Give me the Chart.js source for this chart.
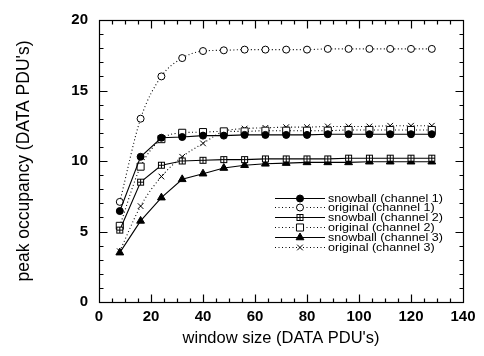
<!DOCTYPE html>
<html>
<head>
<meta charset="utf-8">
<script src="https://cdn.jsdelivr.net/npm/chart.js@4.4.0/dist/chart.umd.min.js"></script>
<style>
  html, body { margin: 0; padding: 0; background: #fff; }
  #wrap { width: 484px; height: 356px; }
</style>
</head>
<body>
<div id="wrap"><canvas id="occChart" width="484" height="356"></canvas></div>
<script>
// window sizes (x)
const windowSizes = [8, 16, 24, 32, 40, 48, 56, 64, 72, 80, 88, 96, 104, 112, 120, 128];

// peak occupancy per series
const snowballCh1 = [6.45, 10.3, 11.65, 11.7, 11.8, 11.8, 11.85, 11.85, 11.85, 11.85, 11.9, 11.9, 11.9, 11.9, 11.9, 11.9];
const originalCh1 = [7.1, 13.0, 16.0, 17.3, 17.8, 17.85, 17.9, 17.9, 17.9, 17.9, 17.95, 17.95, 17.95, 17.95, 17.95, 17.95];
const snowballCh2 = [5.1, 8.5, 9.7, 10.0, 10.05, 10.1, 10.1, 10.15, 10.15, 10.15, 10.15, 10.2, 10.2, 10.2, 10.2, 10.2];
const originalCh2 = [5.4, 9.6, 11.55, 12.0, 12.05, 12.1, 12.1, 12.15, 12.15, 12.15, 12.15, 12.2, 12.2, 12.2, 12.2, 12.2];
const snowballCh3 = [3.5, 5.75, 7.4, 8.7, 9.1, 9.5, 9.7, 9.8, 9.85, 9.9, 9.9, 9.9, 9.95, 9.95, 9.95, 9.95];
const originalCh3 = [3.6, 6.8, 8.9, 10.3, 11.25, 12.1, 12.3, 12.35, 12.4, 12.4, 12.45, 12.45, 12.45, 12.5, 12.5, 12.5];

const seriesLabels = [
  'snowball (channel 1)', 'original (channel 1)',
  'snowball (channel 2)', 'original (channel 2)',
  'snowball (channel 3)', 'original (channel 3)'
];

const xTicks = [0, 20, 40, 60, 80, 100, 120, 140];
const yTicks = [0, 5, 10, 15, 20];

Chart.defaults.font.family = "'Liberation Sans', Arial, sans-serif";
Chart.defaults.color = '#000';

// square with a plus inside (snowball channel 2)
function crossedSquare() {
  const c = document.createElement('canvas');
  c.width = 9; c.height = 9;
  const g = c.getContext('2d');
  g.fillStyle = '#fff';
  g.fillRect(1, 1, 7, 7);
  g.strokeStyle = '#000';
  g.lineWidth = 1;
  g.strokeRect(1.5, 1.5, 6, 6);
  g.beginPath();
  g.moveTo(4.5, 1.5); g.lineTo(4.5, 7.5);
  g.moveTo(1.5, 4.5); g.lineTo(7.5, 4.5);
  g.stroke();
  return c;
}

const dotted = [1, 2.5];

function pts(ys) {
  return windowSizes.map((x, i) => ({ x: x, y: ys[i] }));
}

const datasets = [
  { label: seriesLabels[0], data: pts(snowballCh1), pointStyle: 'circle', pointRadius: 3.5, pointBackgroundColor: '#000', borderDash: [] },
  { label: seriesLabels[1], data: pts(originalCh1), pointStyle: 'circle', pointRadius: 3.5, pointBackgroundColor: '#fff', borderDash: dotted, cubicInterpolationMode: 'monotone' },
  { label: seriesLabels[2], data: pts(snowballCh2), pointStyle: crossedSquare(), pointRadius: 4, pointBackgroundColor: '#fff', borderDash: [] },
  { label: seriesLabels[3], data: pts(originalCh2), pointStyle: 'rect', pointRadius: 5, pointBackgroundColor: '#fff', borderDash: dotted, cubicInterpolationMode: 'monotone' },
  { label: seriesLabels[4], data: pts(snowballCh3), pointStyle: 'triangle', pointRadius: 4.5, pointBackgroundColor: '#000', borderDash: [] },
  { label: seriesLabels[5], data: pts(originalCh3), pointStyle: 'crossRot', pointRadius: 4, pointBackgroundColor: '#fff', borderDash: dotted, cubicInterpolationMode: 'monotone' }
].map(ds => Object.assign({
  borderColor: '#000',
  borderWidth: 1.1,
  pointBorderColor: '#000',
  pointBorderWidth: 1,
  tension: 0,
  fill: false
}, ds));

// frame + inward ticks on all four sides
const frameTicks = {
  id: 'frameTicks',
  afterDatasetsDraw(chart) {
    const { ctx, chartArea: a, scales: { x, y } } = chart;
    const L = Math.round(a.left) + 0.5, R = Math.round(a.right) + 0.5;
    const T = Math.round(a.top) + 0.5, B = Math.round(a.bottom) + 0.5;
    ctx.save();
    ctx.strokeStyle = '#000';
    ctx.lineWidth = 1.2;
    ctx.strokeRect(L, T, R - L, B - T);
    ctx.beginPath();
    for (let v = 5; v < 140; v += 5) {
      const px = Math.round(x.getPixelForValue(v)) + 0.5;
      const len = v % 20 === 0 ? 8 : 4;
      ctx.moveTo(px, B); ctx.lineTo(px, B - len);
      ctx.moveTo(px, T); ctx.lineTo(px, T + len);
    }
    for (let v = 1; v < 20; v += 1) {
      const py = Math.round(y.getPixelForValue(v)) + 0.5;
      const len = v % 5 === 0 ? 8 : 4;
      ctx.moveTo(L, py); ctx.lineTo(L + len, py);
      ctx.moveTo(R, py); ctx.lineTo(R - len, py);
    }
    ctx.stroke();
    ctx.restore();
  }
};

// legend inside the plot: line sample with marker, then text (wide, tight rows)
const insideLegend = {
  id: 'insideLegend',
  afterDraw(chart) {
    const { ctx, chartArea: a } = chart;
    const x0 = a.right - 188, x1 = a.right - 138, tx = a.right - 135;
    const y0 = 197.5, dy = 9.9;
    ctx.save();
    chart.data.datasets.forEach((ds, i) => {
      const yy = Math.round(y0 + i * dy) + 0.5;
      ctx.strokeStyle = '#000';
      ctx.lineWidth = 1;
      ctx.setLineDash(ds.borderDash);
      ctx.beginPath();
      ctx.moveTo(x0, yy); ctx.lineTo(x1, yy);
      ctx.stroke();
      ctx.setLineDash([]);
      ctx.fillStyle = ds.pointBackgroundColor;
      Chart.helpers.drawPoint(ctx, {
        pointStyle: ds.pointStyle, radius: ds.pointRadius, rotation: 0, borderWidth: 1
      }, (x0 + x1) / 2, yy);
      ctx.save();
      ctx.translate(tx, yy);
      ctx.scale(1.14, 1);
      ctx.font = "11px 'Liberation Sans', Arial, sans-serif";
      ctx.textBaseline = 'middle';
      ctx.fillStyle = '#000';
      ctx.fillText(ds.label, 0, 0);
      ctx.restore();
    });
    ctx.restore();
  }
};

new Chart(document.getElementById('occChart').getContext('2d'), {
  type: 'line',
  data: { datasets: datasets },
  options: {
    responsive: false,
    animation: false,
    events: [],
    layout: { padding: { top: 14, right: 21, left: 0, bottom: 0 } },
    plugins: { legend: { display: false }, tooltip: { enabled: false } },
    scales: {
      x: {
        type: 'linear',
        min: 0, max: 140,
        afterBuildTicks: s => { s.ticks = xTicks.map(v => ({ value: v })); },
        ticks: { padding: 6, font: { size: 15, weight: 'bold' }, color: '#000', maxRotation: 0 },
        grid: { display: false, drawTicks: false },
        border: { display: false },
        title: { display: true, text: "window size (DATA PDU's)", font: { size: 16.5 }, color: '#000', padding: { top: 0, bottom: 8 } },
        afterFit: s => { s.height = 54; }
      },
      y: {
        type: 'linear',
        min: 0, max: 20,
        afterBuildTicks: s => { s.ticks = yTicks.map(v => ({ value: v })); },
        ticks: { padding: 11, font: { size: 15, weight: 'bold' }, color: '#000' },
        grid: { display: false, drawTicks: false },
        border: { display: false },
        title: { display: true, text: "peak occupancy (DATA PDU's)", font: { size: 17.5 }, color: '#000', padding: { top: 14, bottom: 0 } },
        afterFit: s => { s.width = 99; }
      }
    }
  },
  plugins: [frameTicks, insideLegend]
});
</script>
</body>
</html>
